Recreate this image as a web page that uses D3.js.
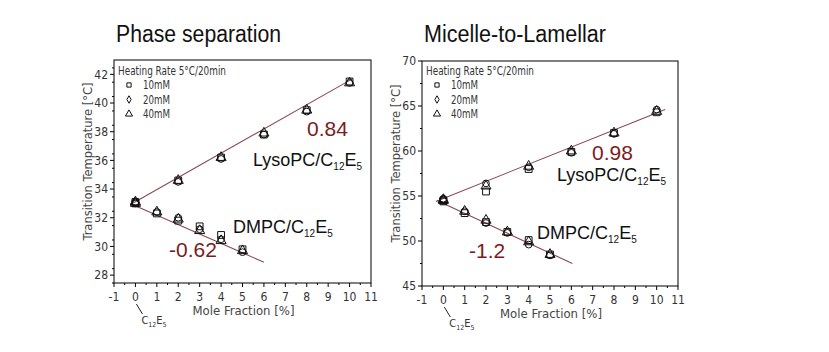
<!DOCTYPE html>
<html>
<head>
<meta charset="utf-8">
<script src="https://cdn.jsdelivr.net/npm/d3@7"></script>
<style>
  body { margin: 0; background: #fff; }
  svg { display: block; }
  .tick-label, .axis-title, .legend-text { font-family: "Liberation Sans Narrow", "DejaVu Sans Condensed", "Liberation Sans", sans-serif; }
</style>
</head>
<body>
<div id="chart"></div>
<script>
// x positions
const lysoX = [0, 2, 4, 6, 8, 10];
const dmpcX = [0, 1, 2, 3, 4, 5];
const xTicks = [-1, 0, 1, 2, 3, 4, 5, 6, 7, 8, 9, 10, 11];

// Phase separation panel
const psLyso10 = [33.1, 34.6, 36.2, 37.8, 39.5, 41.5];
const psLyso20 = [33.0, 34.5, 36.1, 37.8, 39.4, 41.4];
const psLyso40 = [33.1, 34.6, 36.2, 37.9, 39.5, 41.4];
const psDmpc10 = [33.0, 32.3, 31.8, 31.4, 30.8, 29.8];
const psDmpc20 = [33.1, 32.4, 32.0, 31.2, 30.5, 29.6];
const psDmpc40 = [33.0, 32.4, 31.9, 31.1, 30.4, 29.7];
const psLysoFit = [[-0.25, 32.9], [10.15, 41.7]];
const psDmpcFit = [[-0.25, 33.0], [6.0, 28.9]];
const psYTicks = [28, 30, 32, 34, 36, 38, 40, 42];

// Micelle-to-Lamellar panel
const mlLyso10 = [54.5, 55.5, 58.0, 59.9, 62.0, 64.3];
const mlLyso20 = [54.7, 56.4, 58.2, 59.8, 61.9, 64.6];
const mlLyso40 = [54.6, 56.1, 58.3, 60.0, 62.0, 64.4];
const mlDmpc10 = [54.4, 53.1, 52.1, 51.0, 50.1, 48.5];
const mlDmpc20 = [54.6, 53.3, 52.0, 50.9, 49.6, 48.4];
const mlDmpc40 = [54.5, 53.3, 52.3, 51.0, 49.9, 48.5];
const mlLysoFit = [[-0.35, 54.4], [10.4, 64.6]];
const mlDmpcFit = [[-0.3, 54.5], [6.05, 47.5]];
const mlYTicks = [45, 50, 55, 60, 65, 70];

const legendLabels = ['10mM', '20mM', '40mM'];
const fitColor = '#8a4a4e';
const slopeColor = '#7b1c1c';

const svg = d3.select('#chart').append('svg')
    .attr('width', 829)
    .attr('height', 352);

function marker(kind) {
    if (kind === 0) return d3.symbol().type(d3.symbolSquare).size(46)();
    if (kind === 1) return d3.symbol().type(d3.symbolCircle).size(36)();
    return d3.symbol().type(d3.symbolTriangle).size(44)();
}

function drawPanel(p) {
    const g = svg.append('g');

    const x = d3.scaleLinear().domain([-1, 11]).range([p.left, p.right]);
    const y = d3.scaleLinear().domain(p.yDomain).range([p.bottom, p.top]);

    // title
    g.append('text')
        .attr('x', p.left + 2)
        .attr('y', 42)
        .attr('font-family', '"Liberation Sans", Arial, sans-serif')
        .attr('font-size', 23)
        .attr('textLength', p.titleWidth)
        .attr('lengthAdjust', 'spacingAndGlyphs')
        .attr('fill', '#111')
        .text(p.title);

    // frame
    g.append('rect')
        .attr('x', p.left)
        .attr('y', p.top)
        .attr('width', p.right - p.left)
        .attr('height', p.bottom - p.top)
        .attr('fill', 'none')
        .attr('stroke', '#000')
        .attr('stroke-width', 1);

    // x axis
    const xMinor = d3.range(-1, 11.01, 0.5).filter(v => !Number.isInteger(v));
    g.selectAll('.xminor')
        .data(xMinor)
        .enter()
        .append('line')
        .attr('x1', d => x(d)).attr('x2', d => x(d))
        .attr('y1', p.bottom).attr('y2', p.bottom + 2)
        .attr('stroke', '#000');
    g.selectAll('.xmajor')
        .data(xTicks)
        .enter()
        .append('line')
        .attr('x1', d => x(d)).attr('x2', d => x(d))
        .attr('y1', p.bottom).attr('y2', p.bottom + 4)
        .attr('stroke', '#000');
    g.selectAll('.xlabel')
        .data(xTicks)
        .enter()
        .append('text')
        .attr('class', 'tick-label')
        .attr('x', d => x(d))
        .attr('y', p.bottom + 18)
        .attr('text-anchor', 'middle')
        .attr('font-size', 12)
        .attr('fill', '#333')
        .text(d => d);

    // y axis
    const yMinor = d3.range(p.yDomain[0], p.yDomain[1], p.yMinorStep)
        .map(v => Math.round(v * 100) / 100)
        .filter(v => !p.yTicks.includes(v));
    g.selectAll('.yminor')
        .data(yMinor.filter(v => v >= p.yDomain[0] && v <= p.yDomain[1]))
        .enter()
        .append('line')
        .attr('x1', p.left - 2).attr('x2', p.left)
        .attr('y1', d => y(d)).attr('y2', d => y(d))
        .attr('stroke', '#000');
    g.selectAll('.ymajor')
        .data(p.yTicks)
        .enter()
        .append('line')
        .attr('x1', p.left - 4).attr('x2', p.left)
        .attr('y1', d => y(d)).attr('y2', d => y(d))
        .attr('stroke', '#000');
    g.selectAll('.ylabel')
        .data(p.yTicks)
        .enter()
        .append('text')
        .attr('class', 'tick-label')
        .attr('x', p.left - 6)
        .attr('y', d => y(d))
        .attr('dy', '0.35em')
        .attr('text-anchor', 'end')
        .attr('font-size', 12)
        .attr('fill', '#333')
        .text(d => d);

    // axis titles
    g.append('text')
        .attr('class', 'axis-title')
        .attr('x', (p.left + p.right) / 2 + 1)
        .attr('y', p.bottom + 32)
        .attr('text-anchor', 'middle')
        .attr('font-size', 13)
        .attr('fill', '#444')
        .text('Mole Fraction [%]');

    g.append('text')
        .attr('class', 'axis-title')
        .attr('transform', `translate(${p.left - 22},${(p.top + p.bottom) / 2 - 10}) rotate(-90)`)
        .attr('text-anchor', 'middle')
        .attr('font-size', 13)
        .attr('textLength', 158)
        .attr('lengthAdjust', 'spacingAndGlyphs')
        .attr('fill', '#444')
        .text('Transition Temperature [°C]');

    // C12E5 pointer under 0
    g.append('line')
        .attr('x1', x(0) + 1).attr('y1', p.bottom + 21)
        .attr('x2', x(0) + 7).attr('y2', p.bottom + 31)
        .attr('stroke', '#222');
    const ce = g.append('text')
        .attr('class', 'tick-label')
        .attr('x', x(0) + 6)
        .attr('y', p.bottom + 41)
        .attr('font-size', 11)
        .attr('fill', '#333');
    ce.append('tspan').text('C');
    ce.append('tspan').attr('font-size', 7).attr('dy', 3).text('12');
    ce.append('tspan').attr('dy', -3).text('E');
    ce.append('tspan').attr('font-size', 7).attr('dy', 3).text('5');

    // fit lines
    const line = d3.line().x(d => x(d[0])).y(d => y(d[1]));
    [p.lysoFit, p.dmpcFit].forEach(f => {
        g.append('path')
            .attr('d', line(f))
            .attr('fill', 'none')
            .attr('stroke', fitColor)
            .attr('stroke-width', 1.1);
    });

    // data points
    const series = [
        { xs: lysoX, ys: p.lyso[0], kind: 0 }, { xs: lysoX, ys: p.lyso[1], kind: 1 }, { xs: lysoX, ys: p.lyso[2], kind: 2 },
        { xs: dmpcX, ys: p.dmpc[0], kind: 0 }, { xs: dmpcX, ys: p.dmpc[1], kind: 1 }, { xs: dmpcX, ys: p.dmpc[2], kind: 2 }
    ];
    series.forEach(s => {
        g.selectAll(null)
            .data(s.xs.map((v, i) => [v, s.ys[i]]))
            .enter()
            .append('path')
            .attr('d', marker(s.kind))
            .attr('transform', d => `translate(${x(d[0])},${y(d[1])})`)
            .attr('fill', 'none')
            .attr('stroke', '#111')
            .attr('stroke-width', 1);
    });

    // legend
    g.append('text')
        .attr('class', 'legend-text')
        .attr('x', p.left + 4)
        .attr('y', 75)
        .attr('font-size', 11.5)
        .attr('textLength', 108)
        .attr('lengthAdjust', 'spacingAndGlyphs')
        .attr('fill', '#333')
        .text('Heating Rate 5°C/20min');
    legendLabels.forEach((lab, i) => {
        const ly = 85 + i * 14.5;
        g.append('path')
            .attr('d', i === 1
                ? d3.symbol().type(d3.symbolDiamond).size(16)()
                : d3.symbol().type(i === 0 ? d3.symbolSquare : d3.symbolTriangle).size(i === 0 ? 18 : 22)())
            .attr('transform', `translate(${p.left + 15},${ly})`)
            .attr('fill', 'none')
            .attr('stroke', '#111');
        g.append('text')
            .attr('class', 'legend-text')
            .attr('x', p.left + 29)
            .attr('y', ly)
            .attr('dy', '0.35em')
            .attr('font-size', 12)
            .attr('textLength', 27)
            .attr('lengthAdjust', 'spacingAndGlyphs')
            .attr('fill', '#333')
            .text(lab);
    });

    // annotations
    function formula(name, ax, ay) {
        const t = g.append('text')
            .attr('x', ax).attr('y', ay)
            .attr('font-family', '"Liberation Sans", Arial, sans-serif')
            .attr('font-size', 18)
            .attr('fill', '#111');
        t.append('tspan').text(name);
        t.append('tspan').attr('font-size', 10).attr('dy', 4).text('12');
        t.append('tspan').attr('dy', -4).text('E');
        t.append('tspan').attr('font-size', 10).attr('dy', 4).text('5');
    }
    formula('LysoPC/C', p.lysoLabel[0], p.lysoLabel[1]);
    formula('DMPC/C', p.dmpcLabel[0], p.dmpcLabel[1]);

    g.append('text')
        .attr('x', p.lysoSlope[0]).attr('y', p.lysoSlope[1])
        .attr('font-family', '"Liberation Sans", Arial, sans-serif')
        .attr('font-size', 21)
        .attr('fill', slopeColor)
        .text(p.lysoSlopeText);
    g.append('text')
        .attr('x', p.dmpcSlope[0]).attr('y', p.dmpcSlope[1])
        .attr('font-family', '"Liberation Sans", Arial, sans-serif')
        .attr('font-size', 21)
        .attr('fill', slopeColor)
        .text(p.dmpcSlopeText);
}

drawPanel({
    title: 'Phase separation', titleWidth: 165,
    left: 114, right: 371, top: 60, bottom: 283,
    yDomain: [27.45, 43], yTicks: psYTicks, yMinorStep: 1,
    lyso: [psLyso10, psLyso20, psLyso40], dmpc: [psDmpc10, psDmpc20, psDmpc40],
    lysoFit: psLysoFit, dmpcFit: psDmpcFit,
    lysoLabel: [253, 166], dmpcLabel: [233, 233],
    lysoSlope: [307, 136], lysoSlopeText: '0.84',
    dmpcSlope: [169, 257], dmpcSlopeText: '-0.62'
});

drawPanel({
    title: 'Micelle-to-Lamellar', titleWidth: 182,
    left: 422, right: 678, top: 61, bottom: 286,
    yDomain: [45, 70], yTicks: mlYTicks, yMinorStep: 2.5,
    lyso: [mlLyso10, mlLyso20, mlLyso40], dmpc: [mlDmpc10, mlDmpc20, mlDmpc40],
    lysoFit: mlLysoFit, dmpcFit: mlDmpcFit,
    lysoLabel: [557, 181], dmpcLabel: [537, 239],
    lysoSlope: [592, 160], lysoSlopeText: '0.98',
    dmpcSlope: [469, 258], dmpcSlopeText: '-1.2'
});
</script>
</body>
</html>
